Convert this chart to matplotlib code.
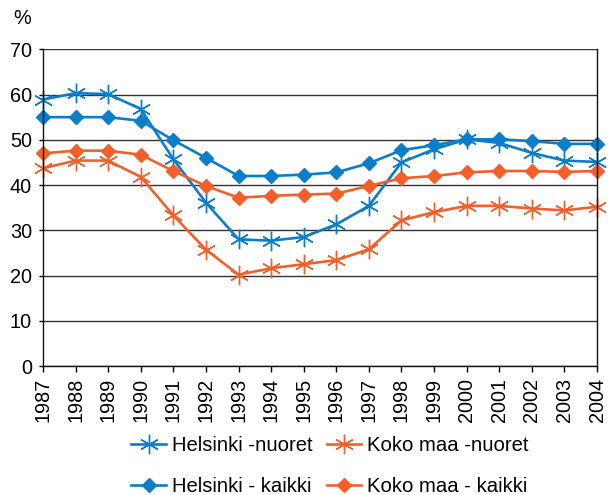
import matplotlib
matplotlib.use("Agg")
import matplotlib.pyplot as plt

plt.rcParams['font.family'] = ['Liberation Sans', 'DejaVu Sans']

years = list(range(1987, 2005))
hki_nuoret = [58.9, 60.3, 60.1, 56.8, 45.7, 36.1, 28.0, 27.7, 28.5, 31.3, 35.4, 45.0, 47.9, 50.1, 49.3, 47.1, 45.4, 45.1]
hki_kaikki = [55.0, 55.0, 55.0, 54.2, 49.9, 46.0, 42.0, 42.0, 42.3, 42.8, 44.8, 47.7, 48.8, 50.1, 50.1, 49.7, 49.1, 49.1]
koko_nuoret = [43.7, 45.4, 45.4, 41.8, 33.3, 25.7, 20.2, 21.6, 22.5, 23.4, 25.8, 32.2, 34.0, 35.4, 35.4, 34.8, 34.4, 35.2]
koko_kaikki = [47.0, 47.6, 47.6, 46.7, 43.1, 39.8, 37.2, 37.6, 37.9, 38.1, 39.8, 41.5, 42.0, 42.8, 43.1, 43.1, 42.9, 43.1]
labels = ["Helsinki -nuoret", "Helsinki - kaikki", "Koko maa -nuoret", "Koko maa - kaikki"]

blue = "#0b7dc9"
orange = "#f1602a"

fig = plt.figure(figsize=(6.13, 4.95), dpi=100)
ax = fig.add_axes([43/613, 1 - 366/495, (597 - 43)/613, (366 - 49.3)/495])

star = (6, 2, 0)
l1, = ax.plot(years, hki_nuoret, color=blue, lw=1.9, marker=star, ms=14, mew=1.0, label=labels[0])
l2, = ax.plot(years, hki_kaikki, color=blue, lw=1.9, marker='D', ms=7, label=labels[1])
l3, = ax.plot(years, koko_nuoret, color=orange, lw=1.9, marker=star, ms=14, mew=1.0, label=labels[2])
l4, = ax.plot(years, koko_kaikki, color=orange, lw=1.9, marker='D', ms=7, label=labels[3])

ax.set_xlim(1987, 2004)
ax.set_ylim(0, 70)
ax.set_yticks(range(0, 71, 10))
ax.set_xticks(years)
ax.set_xticklabels([str(y) for y in years], rotation=90, fontsize=14.3)
ax.tick_params(axis='y', labelsize=14.3, length=3, width=1, pad=5)
ax.tick_params(axis='x', length=4.3, width=1, pad=4)
ax.yaxis.grid(True, color='#333333', lw=1)
ax.set_axisbelow(True)
for s in ax.spines.values():
    s.set_color('#111111')
    s.set_linewidth(1)
ax.spines['top'].set_visible(False)
for l in (l1, l2, l3, l4):
    l.set_clip_on(False)

fig.text(22/613, 1 - 18/495, "%", fontsize=14.3, ha='center', va='center')

fig.legend(handles=[l1, l2, l3, l4], loc='center', bbox_to_anchor=(330/613, 1 - 466/495),
           ncol=2, frameon=False, fontsize=14.6, handlelength=1.7, handletextpad=0.3,
           columnspacing=0.7, labelspacing=1.05)

fig.savefig("out.png", dpi=100)
